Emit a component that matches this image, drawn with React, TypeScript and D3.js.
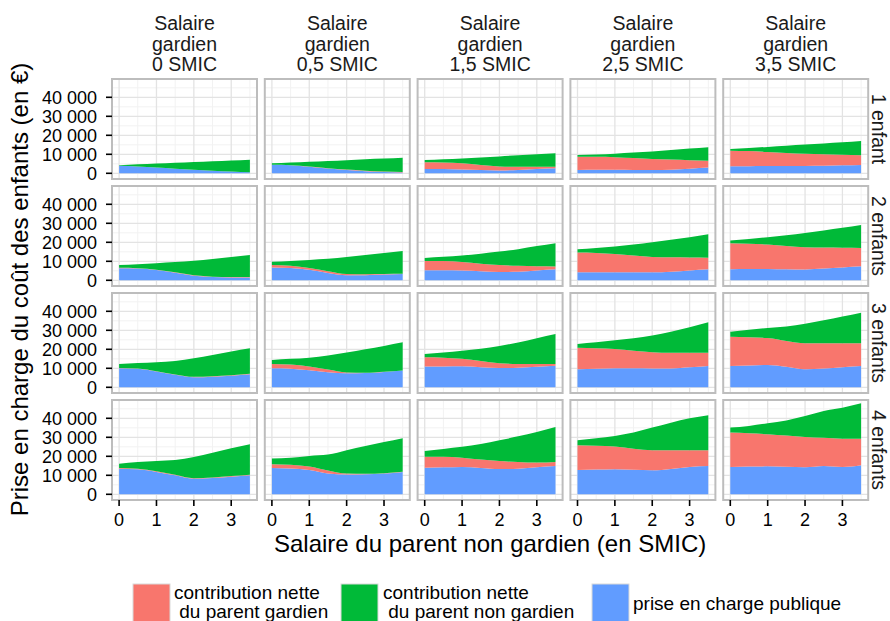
import React from "react";
import * as d3 from "d3";

const xSmic = [0, 0.5, 1, 1.5, 2, 2.5, 3, 3.5];
const gardienStrips = ["0 SMIC", "0,5 SMIC", "1,5 SMIC", "2,5 SMIC", "3,5 SMIC"];
const enfantStrips = ["1 enfant", "2 enfants", "3 enfants", "4 enfants"];
const yTicks = [0, 10000, 20000, 30000, 40000];
const yMinor = [5000, 15000, 25000, 35000, 45000];
const xTicks = [0, 1, 2, 3];
const xMinor = [0.5, 1.5, 2.5, 3.5];
const seriesNames = ["contribution nette\n du parent gardien", "contribution nette\n du parent non gardien", "prise en charge publique"];
const seriesColors = ["#F8766D", "#00BA38", "#619CFF"];

// values per panel column (salaire gardien), 8 points each (salaire non gardien)
// 1 enfant
const publique1 = [
  [4000, 3600, 3000, 2400, 1900, 1400, 1000, 600],
  [4500, 4300, 3500, 2500, 1700, 1100, 700, 400],
  [2300, 2200, 2000, 1700, 1500, 1800, 2300, 2700],
  [1800, 1900, 1900, 1800, 1700, 1900, 2400, 3000],
  [3700, 3700, 3800, 3800, 3900, 4000, 4200, 4400],
];
const gardien1 = [
  [0, 0, 0, 0, 0, 0, 0, 0],
  [0, 0, 100, 200, 250, 300, 300, 300],
  [3500, 3500, 3300, 2700, 2100, 1600, 1100, 700],
  [6900, 6800, 6600, 6200, 5800, 5300, 4500, 3600],
  [8200, 8000, 7400, 6900, 6400, 6000, 5600, 5100],
];
const nonGardien1 = [
  [300, 1100, 2100, 3100, 4000, 4900, 5700, 6500],
  [800, 1400, 2500, 3800, 4950, 6000, 6800, 7500],
  [1200, 1700, 2500, 3900, 5300, 6100, 6600, 7100],
  [900, 1200, 1800, 2900, 4000, 5000, 6100, 7100],
  [900, 1600, 2700, 3800, 4800, 5700, 6500, 7500],
];
// 2 enfants
const publique2 = [
  [6400, 6200, 5400, 4000, 2400, 1700, 1500, 1500],
  [6800, 6500, 5500, 3800, 2600, 2700, 3000, 3300],
  [5300, 5300, 5200, 4800, 4400, 4500, 5200, 5800],
  [4200, 4300, 4300, 4200, 4200, 4500, 5200, 5800],
  [5800, 5900, 6000, 5800, 5700, 6200, 6800, 7400],
];
const gardien2 = [
  [200, 200, 200, 200, 200, 200, 200, 200],
  [1200, 1200, 1000, 1000, 700, 500, 300, 100],
  [4900, 4800, 4400, 3900, 3600, 3100, 2200, 1500],
  [10400, 10100, 9500, 8800, 8100, 7600, 6800, 6100],
  [13700, 13400, 12800, 12200, 11700, 11000, 10300, 9600],
];
const nonGardien2 = [
  [1400, 2100, 3400, 5400, 7700, 9300, 10500, 11600],
  [1800, 2500, 4200, 6500, 8900, 10100, 11100, 12000],
  [1600, 2300, 3500, 5300, 7100, 8800, 10600, 12200],
  [1700, 2600, 4000, 5800, 7700, 9200, 10700, 12300],
  [1500, 2500, 3900, 5700, 7500, 9000, 10500, 12100],
];
// 3 enfants
const publique3 = [
  [10000, 9700, 8300, 6600, 5300, 5600, 6100, 6900],
  [10000, 9800, 9000, 7900, 7400, 7500, 8100, 8800],
  [10900, 11000, 11100, 10600, 10100, 10300, 10800, 11300],
  [9500, 9700, 10000, 10000, 9900, 9900, 10500, 11200],
  [11200, 11500, 11700, 10800, 9500, 9900, 10600, 11200],
];
const gardien3 = [
  [200, 200, 200, 200, 200, 200, 200, 200],
  [2300, 2200, 2000, 1500, 400, 100, 100, 100],
  [4900, 4600, 3900, 3200, 2600, 2000, 1500, 1000],
  [11300, 10900, 10200, 9300, 8600, 8300, 7700, 7000],
  [15400, 14900, 14200, 13600, 13700, 13300, 12600, 12000],
];
const nonGardien3 = [
  [2100, 2900, 4700, 7000, 9800, 11200, 12500, 13400],
  [2100, 3000, 4600, 7300, 10500, 12400, 13600, 14800],
  [1700, 2700, 4200, 6500, 9100, 11300, 13500, 15700],
  [2000, 3100, 4500, 6500, 8800, 11000, 13400, 16000],
  [2700, 3900, 5300, 7600, 10300, 12100, 14100, 16100],
];
// 4 enfants
const publique4 = [
  [13500, 13200, 11800, 10000, 8200, 8600, 9300, 10000],
  [13900, 13600, 12800, 11000, 10400, 10500, 10900, 11800],
  [14000, 14200, 14400, 13900, 13300, 13500, 14300, 14900],
  [12800, 13000, 13200, 12900, 12600, 13300, 14400, 14900],
  [14400, 14600, 14700, 14500, 14200, 14900, 14400, 15300],
];
const gardien4 = [
  [300, 300, 300, 300, 300, 300, 300, 300],
  [1900, 1900, 1800, 1500, 500, 300, 200, 100],
  [5800, 5500, 4900, 4400, 4200, 3500, 2400, 2100],
  [13000, 12500, 11900, 11100, 10600, 9900, 8800, 8300],
  [18100, 17500, 16900, 16400, 16000, 14800, 14900, 14000],
];
const nonGardien4 = [
  [2300, 3500, 5400, 7700, 11100, 13000, 14600, 16000],
  [3000, 3800, 5600, 8400, 12300, 14600, 16400, 17600],
  [3000, 4200, 5700, 8200, 10900, 13500, 16100, 18400],
  [2600, 4000, 5600, 8500, 11900, 14500, 16800, 18400],
  [2600, 3900, 5800, 8000, 11000, 14200, 16300, 18600],
];

const publiqueRows = [publique1, publique2, publique3, publique4];
const gardienRows = [gardien1, gardien2, gardien3, gardien4];
const nonGardienRows = [nonGardien1, nonGardien2, nonGardien3, nonGardien4];

const FONT = "'Liberation Sans', Arial, Helvetica, sans-serif";
const W = 890;
const H = 621;
const panelLeft0 = 112;
const panelStep = 152.8;
const panelW = 145;
const panelTop0 = 79;
const rowStep = 107;
const panelH = 100;

const x = d3.scaleLinear().domain([-0.19, 3.69]).range([0, panelW]);
const y = d3.scaleLinear().domain([-3000, 49630]).range([panelH, 0]);
const fmt = (v: number) => d3.format(",")(v).replace(/,/g, " ");

type Pt = { x: number; pub: number; gar: number; ng: number };

function Panel({ r, c }: { r: number; c: number }) {
  const pts: Pt[] = xSmic.map((xv, i) => ({
    x: xv,
    pub: publiqueRows[r][c][i],
    gar: gardienRows[r][c][i],
    ng: nonGardienRows[r][c][i],
  }));
  const stack = d3.stack<Pt>().keys(["pub", "gar", "ng"]);
  const layers = stack(pts);
  const area = d3
    .area<d3.SeriesPoint<Pt>>()
    .x((d) => x(d.data.x))
    .y0((d) => y(d[0]))
    .y1((d) => y(d[1]))
    .curve(d3.curveMonotoneX);
  const layerColor = [seriesColors[2], seriesColors[0], seriesColors[1]];
  const left = panelLeft0 + c * panelStep;
  const top = panelTop0 + r * rowStep;
  return (
    <g transform={`translate(${left},${top})`}>
      <rect width={panelW} height={panelH} fill="#ffffff" />
      {yMinor.map((v) => (
        <line key={"ym" + v} x1={0} x2={panelW} y1={y(v)} y2={y(v)} stroke="#f2f2f2" strokeWidth={1} />
      ))}
      {xMinor.map((v) => (
        <line key={"xm" + v} x1={x(v)} x2={x(v)} y1={0} y2={panelH} stroke="#f2f2f2" strokeWidth={1} />
      ))}
      {yTicks.map((v) => (
        <line key={"yM" + v} x1={0} x2={panelW} y1={y(v)} y2={y(v)} stroke="#e3e3e3" strokeWidth={1.3} />
      ))}
      {xTicks.map((v) => (
        <line key={"xM" + v} x1={x(v)} x2={x(v)} y1={0} y2={panelH} stroke="#e3e3e3" strokeWidth={1.3} />
      ))}
      {layers.map((layer, i) => (
        <path key={i} d={area(layer) || ""} fill={layerColor[i]} />
      ))}
      <rect x={0} y={0} width={panelW} height={panelH} fill="none" stroke="#bdbdbd" strokeWidth={2} />
    </g>
  );
}

export default function App() {
  const rows = d3.range(4);
  const cols = d3.range(5);
  const lastRowBottom = panelTop0 + 3 * rowStep + panelH;
  const panelsRight = panelLeft0 + 4 * panelStep + panelW;
  return (
    <svg
      width={W}
      height={H}
      viewBox={`0 0 ${W} ${H}`}
      style={{ position: "absolute", left: 0, top: 0, background: "#ffffff" }}
      fontFamily={FONT}
    >
      <rect width={W} height={H} fill="#ffffff" />
      {rows.map((r) => cols.map((c) => <Panel key={r + "-" + c} r={r} c={c} />))}

      {/* column strips */}
      {cols.map((c) => {
        const cx = panelLeft0 + c * panelStep + panelW / 2;
        return (
          <text key={"cs" + c} x={cx} y={30} textAnchor="middle" fontSize={19.5} fill="#1a1a1a">
            <tspan x={cx} y={30}>Salaire</tspan>
            <tspan x={cx} y={50.5}>gardien</tspan>
            <tspan x={cx} y={71}>{gardienStrips[c]}</tspan>
          </text>
        );
      })}

      {/* row strips */}
      {rows.map((r) => {
        const cy = panelTop0 + r * rowStep + panelH / 2;
        return (
          <text
            key={"rs" + r}
            transform={`translate(${panelsRight + 4},${cy}) rotate(90)`}
            textAnchor="middle"
            fontSize={19.5}
            fill="#1a1a1a"
          >
            {enfantStrips[r]}
          </text>
        );
      })}

      {/* y axes */}
      {rows.map((r) => {
        const top = panelTop0 + r * rowStep;
        return (
          <g key={"ya" + r} transform={`translate(${panelLeft0},${top})`}>
            {yTicks.map((v) => (
              <g key={v}>
                <line x1={-6} x2={0} y1={y(v)} y2={y(v)} stroke="#000" strokeWidth={1.6} />
                <text x={-15} y={y(v)} dy="0.36em" textAnchor="end" fontSize={18} fill="#000">
                  {fmt(v)}
                </text>
              </g>
            ))}
          </g>
        );
      })}

      {/* x axes */}
      {cols.map((c) => {
        const left = panelLeft0 + c * panelStep;
        return (
          <g key={"xa" + c} transform={`translate(${left},${lastRowBottom})`}>
            {xTicks.map((v) => (
              <g key={v}>
                <line x1={x(v)} x2={x(v)} y1={0} y2={6} stroke="#000" strokeWidth={1.6} />
                <text x={x(v)} y={26} textAnchor="middle" fontSize={18} fill="#000">
                  {v}
                </text>
              </g>
            ))}
          </g>
        );
      })}

      {/* axis titles */}
      <text x={(panelLeft0 + panelsRight) / 2} y={552} textAnchor="middle" fontSize={24} fill="#000">
        Salaire du parent non gardien (en SMIC)
      </text>
      <text
        transform={`translate(28,${(panelTop0 + lastRowBottom) / 2}) rotate(-90)`}
        textAnchor="middle"
        fontSize={24}
        fill="#000"
      >
        Prise en charge du coût des enfants (en €)
      </text>

      {/* legend */}
      {[
        { kx: 133, tx: 174 },
        { kx: 341, tx: 383 },
        { kx: 592, tx: 633 },
      ].map((pos, i) => {
        const lines = seriesNames[i].split("\n");
        const keyTop = 584;
        const keyH = 38;
        const lh = 19.5;
        const firstBase = lines.length > 1 ? 598.5 : 610;
        return (
          <g key={"lg" + i}>
            <rect x={pos.kx} y={keyTop} width={37} height={keyH} fill={seriesColors[i]} stroke="#d9d9d9" strokeWidth={1} />
            <text fontSize={19} fill="#000" style={{ whiteSpace: "pre" }}>
              {lines.map((ln, j) => (
                <tspan key={j} x={pos.tx} y={firstBase + j * lh}>
                  {ln}
                </tspan>
              ))}
            </text>
          </g>
        );
      })}
    </svg>
  );
}
